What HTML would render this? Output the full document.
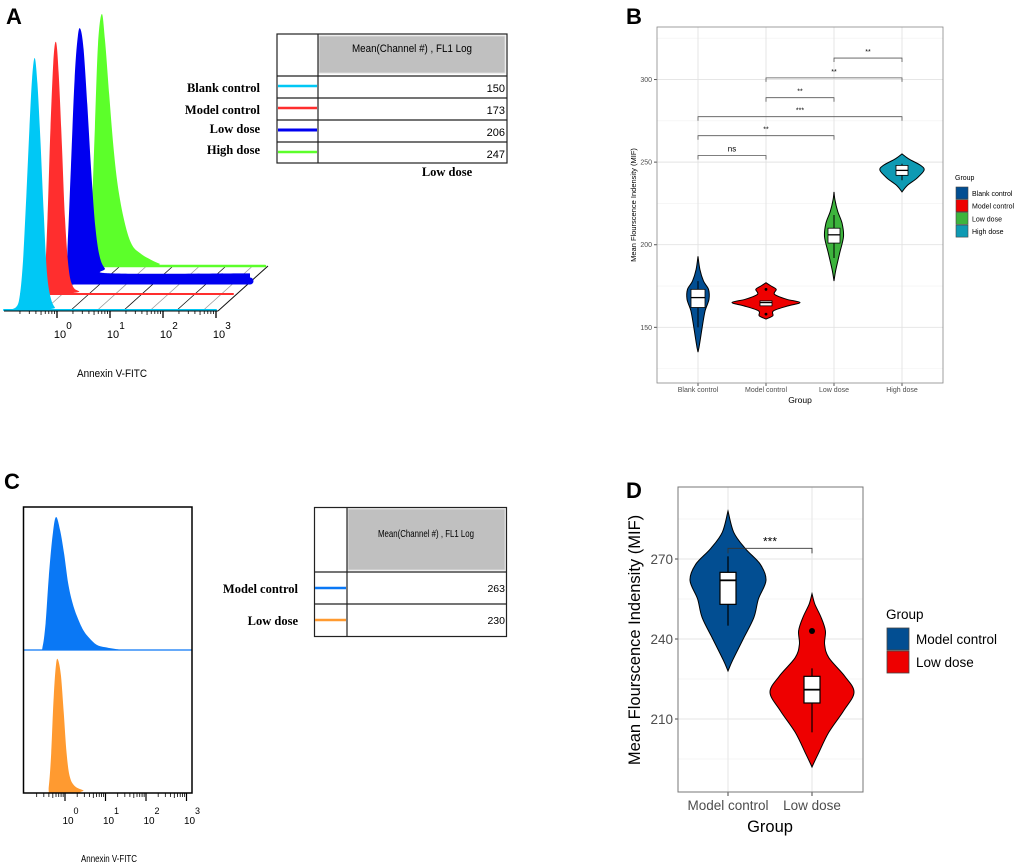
<!DOCTYPE html>
<html><head><meta charset="utf-8">
<style>
html,body{margin:0;padding:0;background:#fff;}
svg{display:block;}
.ser{font-family:"Liberation Serif",serif;font-weight:bold;}
</style></head>
<body>
<svg id="fig" width="1020" height="868" viewBox="0 0 1020 868" xmlns="http://www.w3.org/2000/svg">
<rect width="1020" height="868" fill="#fff"/>
<g id="pa"></g>
<g id="pb"></g>
<g id="pc"></g>
<g id="pd"></g>
</svg>
<script>
// ===== Panel A data (histograms: [log10 value, count]) =====
const aSeriesNames = ["Blank control","Model control","Low dose","High dose"];
const aMeans = [150,173,206,247];
const aCyan  = [[-1,0],[-0.78,0.01],[-0.7,0.06],[-0.64,0.2],[-0.58,0.45],[-0.52,0.72],[-0.47,0.92],[-0.42,1],[-0.37,0.9],[-0.31,0.66],[-0.25,0.38],[-0.19,0.15],[-0.12,0.05],[-0.04,0.01],[0.05,0],[3,0]];
const aRed   = [[-1,0],[-0.62,0.01],[-0.55,0.08],[-0.5,0.3],[-0.45,0.62],[-0.39,0.92],[-0.34,1],[-0.29,0.88],[-0.23,0.6],[-0.17,0.3],[-0.1,0.1],[-0.02,0.03],[0.1,0.01],[0.2,0],[3,0]];
const aBlue  = [[-1,0],[-0.5,0.01],[-0.44,0.15],[-0.38,0.45],[-0.31,0.8],[-0.25,0.97],[-0.2,1],[-0.14,0.92],[-0.07,0.7],[0,0.45],[0.08,0.22],[0.16,0.1],[0.26,0.05],[0.4,0.03],[3,0.03]];
const aGreen = [[-1,0],[-0.32,0.01],[-0.27,0.2],[-0.21,0.55],[-0.15,0.88],[-0.08,1],[-0.02,0.9],[0.06,0.68],[0.15,0.45],[0.25,0.28],[0.38,0.15],[0.5,0.08],[0.65,0.05],[0.8,0.03],[1,0.01],[1.2,0],[3,0]];
// ===== Panel B data =====
const bGroups = ["Blank control","Model control","Low dose","High dose"];
const bYTicks = [150,200,250,300];
const bDens = [
 [[135,0],[140,0.15],[150,0.38],[160,0.65],[167,1],[173,0.95],[178,0.5],[185,0.17],[193,0]],
 [[155,0],[157,0.2],[160,0.22],[163,0.65],[165,1],[167,0.6],[170,0.25],[173,0.3],[175,0.15],[177,0]],
 [[178,0],[185,0.2],[195,0.6],[205,1],[213,0.85],[220,0.4],[227,0.1],[232,0]],
 [[232,0],[236,0.25],[240,0.65],[245,1],[248,0.85],[252,0.3],[255,0]]
];
const bBoxQ1 = [162,163,201,242];
const bMed   = [168,165,206,245];
const bBoxQ3 = [173,166,210,248];
const bWLo   = [150,163,192,239];
const bWHi   = [178,166,218,249];
const bOut   = [[],[173,158],[],[]];
const bBrFrom = [0,0,0,1,1,2];
const bBrTo   = [1,2,3,2,3,3];
const bBrY    = [254,266,277.5,289,301,313];
const bBrLab  = ["ns","**","***","**","**","**"];
// ===== Panel C data =====
const cNames = ["Model control","Low dose"];
const cMeans = [263,230];
const cBlue = [[-1,0],[-0.62,0],[-0.55,0.03],[-0.48,0.2],[-0.4,0.55],[-0.3,0.88],[-0.22,1],[-0.12,0.9],[-0.02,0.72],[0.08,0.5],[0.18,0.36],[0.3,0.25],[0.45,0.15],[0.6,0.09],[0.78,0.04],[1,0.02],[1.3,0.005],[1.5,0],[3,0]];
const cOrange = [[-1,0],[-0.46,0],[-0.4,0.05],[-0.34,0.3],[-0.28,0.72],[-0.22,0.97],[-0.17,1],[-0.1,0.88],[-0.03,0.6],[0.04,0.3],[0.12,0.12],[0.25,0.05],[0.45,0.02],[0.6,0],[3,0]];
// ===== Panel D data =====
const dGroups = ["Model control","Low dose"];
const dYTicks = [210,240,270];
const dDens = [
 [[228,0],[232,0.12],[240,0.4],[248,0.68],[255,0.8],[262,1],[268,0.85],[274,0.45],[280,0.15],[288,0]],
 [[192,0],[197,0.15],[205,0.4],[213,0.75],[220,1],[226,0.78],[233,0.4],[238,0.3],[243,0.32],[248,0.22],[253,0.07],[257,0]]
];
const dBoxQ1 = [253,216];
const dMed   = [262,221];
const dBoxQ3 = [265,226];
const dWLo   = [245,205];
const dWHi   = [271,229];
const dOut   = [[],[243]];
const dBrY = 274;
const dBrLab = "***";

const NS="http://www.w3.org/2000/svg";
function mk(parent,tag,attrs,text){const e=document.createElementNS(NS,tag);for(const k in attrs)e.setAttribute(k,attrs[k]);if(text!==undefined)e.textContent=text;parent.appendChild(e);return e;}
function smoothLine(pts){
 let d='M'+pts[0][0].toFixed(1)+','+pts[0][1].toFixed(1);
 for(let i=0;i<pts.length-1;i++){
  const p0=pts[Math.max(0,i-1)],p1=pts[i],p2=pts[i+1],p3=pts[Math.min(pts.length-1,i+2)];
  const c1=[p1[0]+(p2[0]-p0[0])/6,p1[1]+(p2[1]-p0[1])/6];
  const c2=[p2[0]-(p3[0]-p1[0])/6,p2[1]-(p3[1]-p1[1])/6];
  d+='C'+c1[0].toFixed(1)+','+c1[1].toFixed(1)+' '+c2[0].toFixed(1)+','+c2[1].toFixed(1)+' '+p2[0].toFixed(1)+','+p2[1].toFixed(1);
 }
 return d;
}

// ---------- Panel A ----------
(function(){
 const g=document.getElementById('pa');
 let t=mk(g,'text',{x:6,y:24,'font-size':22,'font-weight':'bold','font-family':'Liberation Sans,sans-serif'},'A');
 
 
 const dec=53, x00=57, base0=311, H=252;
 for(let i=0;i<8;i++){
  const x=x00-53+ (i)*26.5+13;
  const l=mk(g,'line',{x1:x,y1:base0,x2:x+49,y2:base0-44,stroke:i%2?'#999':'#111','stroke-width':0.8});
  
  
 }
 mk(g,'line',{x1:218,y1:311,x2:268,y2:266,stroke:'#111','stroke-width':1});
 const series=[aCyan,aRed,aBlue,aGreen];
 const cols=['#00c8f5','#ff2e2e','#0000f0','#5cff2a'];
 const off=[[0,0],[17,-16],[34,-29],[49,-44]];
 const lw=[2,2,7,2.5];
 for(let s=3;s>=0;s--){
  const [dx,dy]=off[s];
  const X=v=>x00+dx+v*dec, Y=c=>base0-1+dy-c*H;
  const pts=series[s].map(p=>[X(p[0]),Y(p[1])]);
  let d=smoothLine(pts)+'L'+X(3)+','+Y(0)+'L'+X(-1)+','+Y(0)+'Z';
  const p=mk(g,'path',{d:d,fill:cols[s]});
  
  
  const bl=mk(g,'line',{x1:X(-1),y1:Y(0),x2:X(3),y2:Y(0),stroke:cols[s],'stroke-width':lw[s],'stroke-linecap':'round'});
  
  
 }
 mk(g,'line',{x1:4,y1:311,x2:218,y2:311,stroke:'#000','stroke-width':1});
 for(let d=-1;d<3;d++){
  for(let m=2;m<=10;m++){
   const x=x00+(d+Math.log10(m))*dec;
   mk(g,'line',{x1:x,y1:311,x2:x,y2:m===10?318:(m===5?315:314),stroke:'#000','stroke-width':m===10?1.3:0.8});
  }
 }
 for(let d=0;d<=3;d++){
  const x=x00+d*dec;
  const tl=mk(g,'text',{x:x+3,y:338,'font-size':11,'text-anchor':'middle','font-family':'Liberation Sans,sans-serif'},'10');
  
  
  mk(g,'text',{x:x+12,y:329,'font-size':10,'text-anchor':'middle','font-family':'Liberation Sans,sans-serif'},String(d));
 }
 t=mk(g,'text',{x:112,y:377,'font-size':11,'text-anchor':'middle','font-family':'Liberation Sans,sans-serif',textLength:70,lengthAdjust:'spacingAndGlyphs'},'Annexin V-FITC');
 
 
 const tb=mk(g,'g',{});
 
 
 mk(tb,'rect',{x:277,y:34,width:230,height:129,fill:'none',stroke:'#222','stroke-width':1.2});
 mk(tb,'rect',{x:319,y:36,width:186,height:37,fill:'#c0c0c0',stroke:'#ddd'});
 mk(tb,'text',{x:412,y:52,'font-size':11,'text-anchor':'middle','font-family':'Liberation Sans,sans-serif',textLength:120,lengthAdjust:'spacingAndGlyphs'},'Mean(Channel #) , FL1 Log');
 mk(tb,'line',{x1:318,y1:34,x2:318,y2:163,stroke:'#222','stroke-width':1.2});
 const rows=[76,98,120,142];
 const ly=[88,110,129,150];
 rows.forEach((ry,i)=>{
  mk(tb,'line',{x1:277,y1:ry,x2:507,y2:ry,stroke:'#222','stroke-width':1.2});
  mk(tb,'line',{x1:278,y1:ry+10,x2:317,y2:ry+10,stroke:cols[i],'stroke-width':i===2?3:2.5});
  const v=mk(tb,'text',{x:505,y:ry+16,'font-size':11,'text-anchor':'end','font-family':'Liberation Sans,sans-serif'},String(aMeans[i]));
  
  
  const lb=mk(g,'text',{x:260,y:ly[i]+4,'font-size':12.5,'text-anchor':'end',class:'ser'},aSeriesNames[i]);
  
  
 });
 mk(g,'text',{x:447,y:176,'font-size':12.5,'text-anchor':'middle',class:'ser'},'Low dose');
})();

function violin(g,cx,dens,maxHalf,Y,fill){
 const right=dens.map(p=>[cx+p[1]*maxHalf,Y(p[0])]);
 const left=dens.slice().reverse().map(p=>[cx-p[1]*maxHalf,Y(p[0])]);
 let d=smoothLine(right)+smoothLine(left).replace('M','L')+'Z';
 return mk(g,'path',{d:d,fill:fill,stroke:'#000','stroke-width':1});
}

// ---------- Panel B ----------
(function(){
 const g=document.getElementById('pb');
 let t=mk(g,'text',{x:626,y:24,'font-size':22,'font-weight':'bold','font-family':'Liberation Sans,sans-serif'},'B');
 
 
 const L=657,R=943,T=27,B=383, vMin=116.3, vMax=331.8;
 const Y=v=>B-(v-vMin)/(vMax-vMin)*(B-T);
 const X=i=>698+i*68;
 for(let v=125;v<=325;v+=50) mk(g,'line',{x1:L,x2:R,y1:Y(v),y2:Y(v),stroke:'#f0f0f0','stroke-width':0.6});
 bYTicks.forEach(v=>{
  mk(g,'line',{x1:L,x2:R,y1:Y(v),y2:Y(v),stroke:'#e3e3e3','stroke-width':0.9});
  mk(g,'line',{x1:L-3,x2:L,y1:Y(v),y2:Y(v),stroke:'#555'});
  const tl=mk(g,'text',{x:L-5,y:Y(v)+2.5,'font-size':7,'text-anchor':'end',fill:'#4d4d4d','font-family':'Liberation Sans,sans-serif'},String(v));
  
  
 });
 bGroups.forEach((n,i)=>mk(g,'line',{x1:X(i),x2:X(i),y1:T,y2:B,stroke:'#e3e3e3','stroke-width':0.9}));
 const cols=['#024e92','#ee0000','#3db43d','#0e9ab3'];
 bGroups.forEach((n,i)=>{
  const v=violin(g,X(i),bDens[i],[11,34,9.5,22][i],Y,cols[i]);
  
  
  mk(g,'line',{x1:X(i),x2:X(i),y1:Y(bWLo[i]),y2:Y(bWHi[i]),stroke:'#000','stroke-width':1});
  const w=[7,6,6,6][i];
  const b=mk(g,'rect',{x:X(i)-w,y:Y(bBoxQ3[i]),width:2*w,height:Y(bBoxQ1[i])-Y(bBoxQ3[i]),fill:'#fff',stroke:'#000','stroke-width':0.8});
  
  
  mk(g,'line',{x1:X(i)-w,x2:X(i)+w,y1:Y(bMed[i]),y2:Y(bMed[i]),stroke:'#000','stroke-width':1.3});
  bOut[i].forEach(o=>mk(g,'circle',{cx:X(i),cy:Y(o),r:1.4,fill:'#000'}));
  mk(g,'line',{x1:X(i),x2:X(i),y1:B,y2:B+3,stroke:'#555'});
  const xl=mk(g,'text',{x:X(i),y:392,'font-size':7,'text-anchor':'middle',fill:'#4d4d4d','font-family':'Liberation Sans,sans-serif'},n);
  
  
 });
 bBrY.forEach((v,k)=>{
  const x1=X(bBrFrom[k]),x2=X(bBrTo[k]),y=Y(v);
  const br=mk(g,'path',{d:`M${x1},${y+4}L${x1},${y}L${x2},${y}L${x2},${y+4}`,fill:'none',stroke:'#555','stroke-width':0.8});
  
  
  mk(g,'text',{x:(x1+x2)/2,y:y-4,'font-size':bBrLab[k]==='ns'?8:7,'text-anchor':'middle','font-family':'Liberation Sans,sans-serif'},bBrLab[k]);
 });
 mk(g,'rect',{x:L,y:T,width:R-L,height:B-T,fill:'none',stroke:'#888','stroke-width':0.8});
 t=mk(g,'text',{x:800,y:403,'font-size':8.5,'text-anchor':'middle','font-family':'Liberation Sans,sans-serif'},'Group');
 
 
 t=mk(g,'text',{x:0,y:0,'font-size':7.5,'text-anchor':'middle','font-family':'Liberation Sans,sans-serif',transform:'translate(636,205) rotate(-90)'},'Mean Flourscence Indensity (MIF)');
 
 
 mk(g,'text',{x:955,y:180,'font-size':7,'font-family':'Liberation Sans,sans-serif'},'Group');
 bGroups.forEach((n,i)=>{
  const k=mk(g,'rect',{x:956,y:187+i*12.7,width:12,height:12,fill:cols[i],stroke:'#444','stroke-width':0.6});
  
  
  const l=mk(g,'text',{x:972,y:196+i*12.7,'font-size':7,'font-family':'Liberation Sans,sans-serif'},n);
  
  
 });
})();

// ---------- Panel C ----------
(function(){
 const g=document.getElementById('pc');
 let t=mk(g,'text',{x:4,y:489,'font-size':22,'font-weight':'bold','font-family':'Liberation Sans,sans-serif'},'C');
 
 
 const dec=40.5, x0=65, Hs=133;
 const X=v=>Math.max(24,Math.min(191,x0+v*dec));
 const bases=[650,793], ser=[cBlue,cOrange], cols=['#0a78f5','#ff9a30'];
 ser.forEach((s,k)=>{
  const pts=s.map(p=>[X(p[0]),bases[k]-p[1]*Hs]);
  let d=smoothLine(pts)+'L191,'+bases[k]+'L24,'+bases[k]+'Z';
  const p=mk(g,'path',{d:d,fill:cols[k]});
  
  
 });
 mk(g,'line',{x1:24,x2:192,y1:650,y2:650,stroke:'#0a78f5','stroke-width':1.2});
 mk(g,'rect',{x:23.5,y:507,width:168.5,height:286,fill:'none',stroke:'#000','stroke-width':1.5});
 for(let d=-1;d<3;d++){
  for(let m=2;m<=10;m++){
   const x=x0+(d+Math.log10(m))*dec;
   if(x<24)continue;
   mk(g,'line',{x1:x,y1:793,x2:x,y2:m===10?801:(m===5?798:797),stroke:'#000','stroke-width':m===10?1.2:0.8});
  }
 }
 for(let d=0;d<=3;d++){
  const x=x0+d*dec;
  const tl=mk(g,'text',{x:x+3,y:824,'font-size':10,'text-anchor':'middle','font-family':'Liberation Sans,sans-serif'},'10');
  
  
  mk(g,'text',{x:x+11,y:814,'font-size':9,'text-anchor':'middle','font-family':'Liberation Sans,sans-serif'},String(d));
 }
 t=mk(g,'text',{x:109,y:862,'font-size':10,'text-anchor':'middle','font-family':'Liberation Sans,sans-serif',textLength:56,lengthAdjust:'spacingAndGlyphs'},'Annexin V-FITC');
 
 
 const tb=mk(g,'g',{});
 
 
 mk(tb,'rect',{x:314.5,y:507.5,width:192,height:129,fill:'none',stroke:'#222','stroke-width':1.2});
 mk(tb,'rect',{x:348,y:509,width:157,height:61,fill:'#c0c0c0',stroke:'#ddd'});
 mk(tb,'text',{x:426,y:537,'font-size':10.5,'text-anchor':'middle','font-family':'Liberation Sans,sans-serif',textLength:96,lengthAdjust:'spacingAndGlyphs'},'Mean(Channel #) , FL1 Log');
 mk(tb,'line',{x1:347,y1:507,x2:347,y2:637,stroke:'#222','stroke-width':1.2});
 [572,604].forEach((ry,i)=>{
  mk(tb,'line',{x1:314,y1:ry,x2:507,y2:ry,stroke:'#222','stroke-width':1.2});
  mk(tb,'line',{x1:315,y1:ry+16,x2:346,y2:ry+16,stroke:cols[i],'stroke-width':2.5});
  const v=mk(tb,'text',{x:505,y:ry+20,'font-size':10.5,'text-anchor':'end','font-family':'Liberation Sans,sans-serif'},String(cMeans[i]));
  
  
  const lb=mk(g,'text',{x:298,y:ry+21,'font-size':12.5,'text-anchor':'end',class:'ser'},cNames[i]);
  
  
 });
})();

// ---------- Panel D ----------
(function(){
 const g=document.getElementById('pd');
 let t=mk(g,'text',{x:626,y:498,'font-size':22,'font-weight':'bold','font-family':'Liberation Sans,sans-serif'},'D');
 
 
 const L=678,R=863,T=487,B=792;
 const Y=v=>639-(v-240)*(80/30);
 const X=i=>728+i*84;
 [195,225,255,285].forEach(v=>mk(g,'line',{x1:L,x2:R,y1:Y(v),y2:Y(v),stroke:'#f0f0f0','stroke-width':0.8}));
 dYTicks.forEach(v=>{
  mk(g,'line',{x1:L,x2:R,y1:Y(v),y2:Y(v),stroke:'#e6e6e6','stroke-width':1});
  mk(g,'line',{x1:L-3,x2:L,y1:Y(v),y2:Y(v),stroke:'#444'});
  const tl=mk(g,'text',{x:L-5,y:Y(v)+5,'font-size':13.5,'text-anchor':'end',fill:'#4d4d4d','font-family':'Liberation Sans,sans-serif'},String(v));
  
  
 });
 dGroups.forEach((n,i)=>mk(g,'line',{x1:X(i),x2:X(i),y1:T,y2:B,stroke:'#e6e6e6','stroke-width':1}));
 const cols=['#024e92','#ee0000'];
 dGroups.forEach((n,i)=>{
  const v=violin(g,X(i),dDens[i],[38,42][i],Y,cols[i]);
  
  
  mk(g,'line',{x1:X(i),x2:X(i),y1:Y(dWLo[i]),y2:Y(dWHi[i]),stroke:'#000','stroke-width':1.2});
  const b=mk(g,'rect',{x:X(i)-8,y:Y(dBoxQ3[i]),width:16,height:Y(dBoxQ1[i])-Y(dBoxQ3[i]),fill:'#fff',stroke:'#000','stroke-width':1.2});
  
  
  mk(g,'line',{x1:X(i)-8,x2:X(i)+8,y1:Y(dMed[i]),y2:Y(dMed[i]),stroke:'#000','stroke-width':1.8});
  dOut[i].forEach(o=>mk(g,'circle',{cx:X(i),cy:Y(o),r:3,fill:'#000'}));
  mk(g,'line',{x1:X(i),x2:X(i),y1:B,y2:B+4,stroke:'#444'});
  const xl=mk(g,'text',{x:X(i),y:810,'font-size':13.5,'text-anchor':'middle',fill:'#4d4d4d','font-family':'Liberation Sans,sans-serif'},n);
  
  
 });
 const br=mk(g,'path',{d:`M${X(0)},${Y(dBrY)+5}L${X(0)},${Y(dBrY)}L${X(1)},${Y(dBrY)}L${X(1)},${Y(dBrY)+5}`,fill:'none',stroke:'#333','stroke-width':0.9});
 
 
 mk(g,'text',{x:(X(0)+X(1))/2,y:Y(dBrY)-3,'font-size':12,'text-anchor':'middle','font-family':'Liberation Sans,sans-serif'},dBrLab);
 mk(g,'rect',{x:L,y:T,width:R-L,height:B-T,fill:'none',stroke:'#777','stroke-width':1});
 t=mk(g,'text',{x:770,y:832,'font-size':16.5,'text-anchor':'middle','font-family':'Liberation Sans,sans-serif'},'Group');
 
 
 t=mk(g,'text',{x:0,y:0,'font-size':16.5,'text-anchor':'middle','font-family':'Liberation Sans,sans-serif',transform:'translate(640,640) rotate(-90)'},'Mean Flourscence Indensity (MIF)');
 
 
 mk(g,'text',{x:886,y:619,'font-size':13.5,'font-family':'Liberation Sans,sans-serif'},'Group');
 dGroups.forEach((n,i)=>{
  const k=mk(g,'rect',{x:887,y:628+i*23,width:22,height:22,fill:cols[i],stroke:'#444','stroke-width':0.8});
  
  
  const l=mk(g,'text',{x:916,y:644+i*23,'font-size':13.5,'font-family':'Liberation Sans,sans-serif'},n);
  
  
 });
})();
</script>
</body></html>
